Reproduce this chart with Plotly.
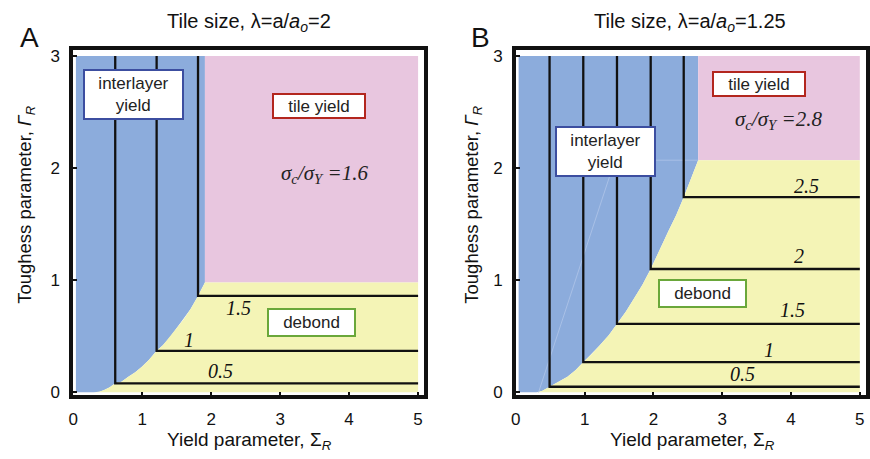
import plotly.graph_objects as go

# ---------------- data ----------------
# Panel A: tile size lambda = 2
levels_a = ["0.5", "1", "1.5"]
corner_x_a = [0.61, 1.21, 1.81]          # Sigma_R where each contour turns
corner_y_a = [0.08, 0.37, 0.86]          # Gamma_R of each horizontal branch
boundary_x_a = [0.30, 0.38, 0.45, 0.53, 0.61, 0.70, 0.80, 0.90, 1.00, 1.10,
                1.21, 1.30, 1.40, 1.50, 1.60, 1.70, 1.81, 1.91]
boundary_y_a = [0.00, 0.005, 0.02, 0.045, 0.08, 0.095, 0.14, 0.18, 0.23, 0.29,
                0.37, 0.42, 0.49, 0.57, 0.65, 0.74, 0.86, 0.98]
tile_x_a = 1.91                          # left edge of tile-yield region
tile_y_a = 0.98                          # bottom edge of tile-yield region
label_x_a = [2.13, 1.68, 2.40]
label_y_a = [0.19, 0.47, 0.75]
ratio_a = "1.6"

# Panel B: tile size lambda = 1.25
levels_b = ["0.5", "1", "1.5", "2", "2.5"]
corner_x_b = [0.49, 0.98, 1.47, 1.96, 2.44]
corner_y_b = [0.05, 0.27, 0.61, 1.10, 1.74]
boundary_x_b = [0.30, 0.38, 0.49, 0.60, 0.75, 0.87, 0.98, 1.10, 1.22, 1.35, 1.47,
                1.60, 1.72, 1.84, 1.96, 2.08, 2.22, 2.33, 2.44, 2.65]
boundary_y_b = [0.00, 0.012, 0.05, 0.085, 0.14, 0.20, 0.27, 0.34, 0.42, 0.51, 0.61,
                0.72, 0.84, 0.96, 1.10, 1.25, 1.44, 1.58, 1.74, 2.07]
tile_x_b = 2.65
tile_y_b = 2.07
label_x_b = [3.30, 3.68, 4.02, 4.12, 4.23]
label_y_b = [0.16, 0.38, 0.73, 1.22, 1.84]
ratio_b = "2.8"
seam_x_b = [0.33, 1.44, 2.65]            # faint polygon seam in the yield region
seam_y_b = [0.00, 2.07, 2.07]

x_ticks = [0, 1, 2, 3, 4, 5]
y_ticks = [0, 1, 2, 3]
x_min, x_max = 0.04, 5.0
y_min, y_max = 0.0, 3.0

BLUE = "#8cacdc"
PINK = "#e8c6df"
YELLOW = "#f4f4b6"
SANS = "Liberation Sans, Arial, sans-serif"
SERIF = "Liberation Serif, Times New Roman, serif"

fig = go.Figure()


def add_regions(xref, yref, bx, by, tx, ty):
    # interlayer-yield region (left of boundary)
    fig.add_trace(go.Scatter(
        x=[x_min, x_min] + bx + [tx], y=[y_max, y_min] + by + [y_max],
        fill="toself", fillcolor=BLUE, mode="lines", line=dict(width=0),
        hoverinfo="skip", showlegend=False, xaxis=xref, yaxis=yref))
    # tile-yield region
    fig.add_trace(go.Scatter(
        x=[tx, x_max, x_max, tx], y=[ty, ty, y_max, y_max],
        fill="toself", fillcolor=PINK, mode="lines", line=dict(width=0),
        hoverinfo="skip", showlegend=False, xaxis=xref, yaxis=yref))
    # debond region
    fig.add_trace(go.Scatter(
        x=[bx[0], x_max, x_max] + bx[::-1], y=[y_min, y_min, ty] + by[::-1],
        fill="toself", fillcolor=YELLOW, mode="lines", line=dict(width=0),
        hoverinfo="skip", showlegend=False, xaxis=xref, yaxis=yref))


def add_contours(xref, yref, cx, cy, levels, lx, ly):
    # contours of sigma_c / sigma_Y
    for i in range(len(levels)):
        fig.add_trace(go.Scatter(
            x=[cx[i], cx[i], x_max], y=[y_max, cy[i], cy[i]],
            mode="lines", line=dict(color="#111111", width=2.3),
            hoverinfo="skip", showlegend=False, xaxis=xref, yaxis=yref))
        fig.add_annotation(
            x=lx[i], y=ly[i], xref=xref, yref=yref,
            text="<i>" + levels[i] + "</i>", showarrow=False,
            xanchor="center", yanchor="middle",
            font=dict(family=SERIF, size=20, color="#111111"))


add_regions("x", "y", boundary_x_a, boundary_y_a, tile_x_a, tile_y_a)
add_contours("x", "y", corner_x_a, corner_y_a, levels_a, label_x_a, label_y_a)

add_regions("x2", "y2", boundary_x_b, boundary_y_b, tile_x_b, tile_y_b)
fig.add_trace(go.Scatter(
    x=seam_x_b, y=seam_y_b, mode="lines", line=dict(color="#a9c0e6", width=1),
    hoverinfo="skip", showlegend=False, xaxis="x2", yaxis="y2"))
add_contours("x2", "y2", corner_x_b, corner_y_b, levels_b, label_x_b, label_y_b)


def box(x, y, xref, yref, text, color, w, h):
    fig.add_annotation(
        x=x, y=y, xref=xref, yref=yref, text=text, showarrow=False,
        xanchor="center", yanchor="middle",
        font=dict(family=SANS, size=17, color="#222222"),
        bgcolor="white", bordercolor=color, borderwidth=2, borderpad=0,
        width=w, height=h, align="center", valign="middle")


BOX_BLUE = "#3c4ea0"
BOX_RED = "#b3261e"
BOX_GREEN = "#6aa73a"

box(0.88, 2.66, "x", "y", "interlayer<br>yield", BOX_BLUE, 97, 47)
box(3.57, 2.55, "x", "y", "tile yield", BOX_RED, 90, 22)
box(3.45, 0.62, "x", "y", "debond", BOX_GREEN, 85, 25)
box(1.31, 2.15, "x2", "y2", "interlayer<br>yield", BOX_BLUE, 97, 47)
box(3.53, 2.75, "x2", "y2", "tile yield", BOX_RED, 90, 22)
box(2.72, 0.88, "x2", "y2", "debond", BOX_GREEN, 85, 25)

ratio_fmt = "<i>σ<sub>c</sub>/σ<sub>Y</sub> =%s</i>"
fig.add_annotation(x=3.64, y=1.95, xref="x", yref="y", text=ratio_fmt % ratio_a,
                   xanchor="center", yanchor="middle", showarrow=False,
                   font=dict(family=SERIF, size=21, color="#222222"))
fig.add_annotation(x=3.82, y=2.43, xref="x2", yref="y2", text=ratio_fmt % ratio_b,
                   xanchor="center", yanchor="middle", showarrow=False,
                   font=dict(family=SERIF, size=21, color="#222222"))

# titles and axis labels (paper coordinates)
W, H = 870, 459


def ptext(px, py, text, size=19, angle=0, family=SANS):
    fig.add_annotation(x=px / W, y=1 - py / H, xref="paper", yref="paper",
                       text=text, showarrow=False, textangle=angle,
                       font=dict(family=family, size=size, color="#111111"),
                       xanchor="center", yanchor="middle")


ptext(245.5, 20, "Tile size, λ=a/<i>a<sub>o</sub></i>=2", size=20)
ptext(690.5, 20, "Tile size, λ=a/<i>a<sub>o</sub></i>=1.25", size=20)
ptext(25, 35, "A", size=28)
ptext(479.5, 35, "B", size=28)
ptext(246, 448, "Yield parameter, Σ<sub><i>R</i></sub>")
ptext(693, 448, "Yield parameter, Σ<sub><i>R</i></sub>")
ptext(20.5, 206, "Toughess parameter, <i>Γ<sub>R</sub></i>", size=18.5, angle=-90)
ptext(471, 206, "Toughess parameter, <i>Γ<sub>R</sub></i>", size=18.5, angle=-90)

axis_common = dict(showline=True, linecolor="#111111", linewidth=3.5, mirror=True,
                   ticks="inside", ticklen=4, tickwidth=2, tickcolor="#111111",
                   showgrid=False, zeroline=False, ticklabelstandoff=6,
                   tickfont=dict(family=SANS, size=17, color="#111111"))

fig.update_layout(
    width=W, height=H, margin=dict(l=0, r=0, t=0, b=0),
    paper_bgcolor="white", plot_bgcolor="white", showlegend=False,
    xaxis=dict(domain=[68.7 / W, 422.7 / W], range=[0, 5.09], tickvals=x_ticks,
               **axis_common),
    yaxis=dict(domain=[1 - 401 / H, 1 - 48 / H], range=[-0.026, 3.053], tickvals=y_ticks,
               **axis_common),
    xaxis2=dict(domain=[515 / W, 868 / W], range=[0, 5.09], tickvals=x_ticks,
                anchor="y2", **axis_common),
    yaxis2=dict(domain=[1 - 401 / H, 1 - 48 / H], range=[-0.026, 3.053], tickvals=y_ticks,
                anchor="x2", **axis_common),
)

fig.write_html("out.html")
